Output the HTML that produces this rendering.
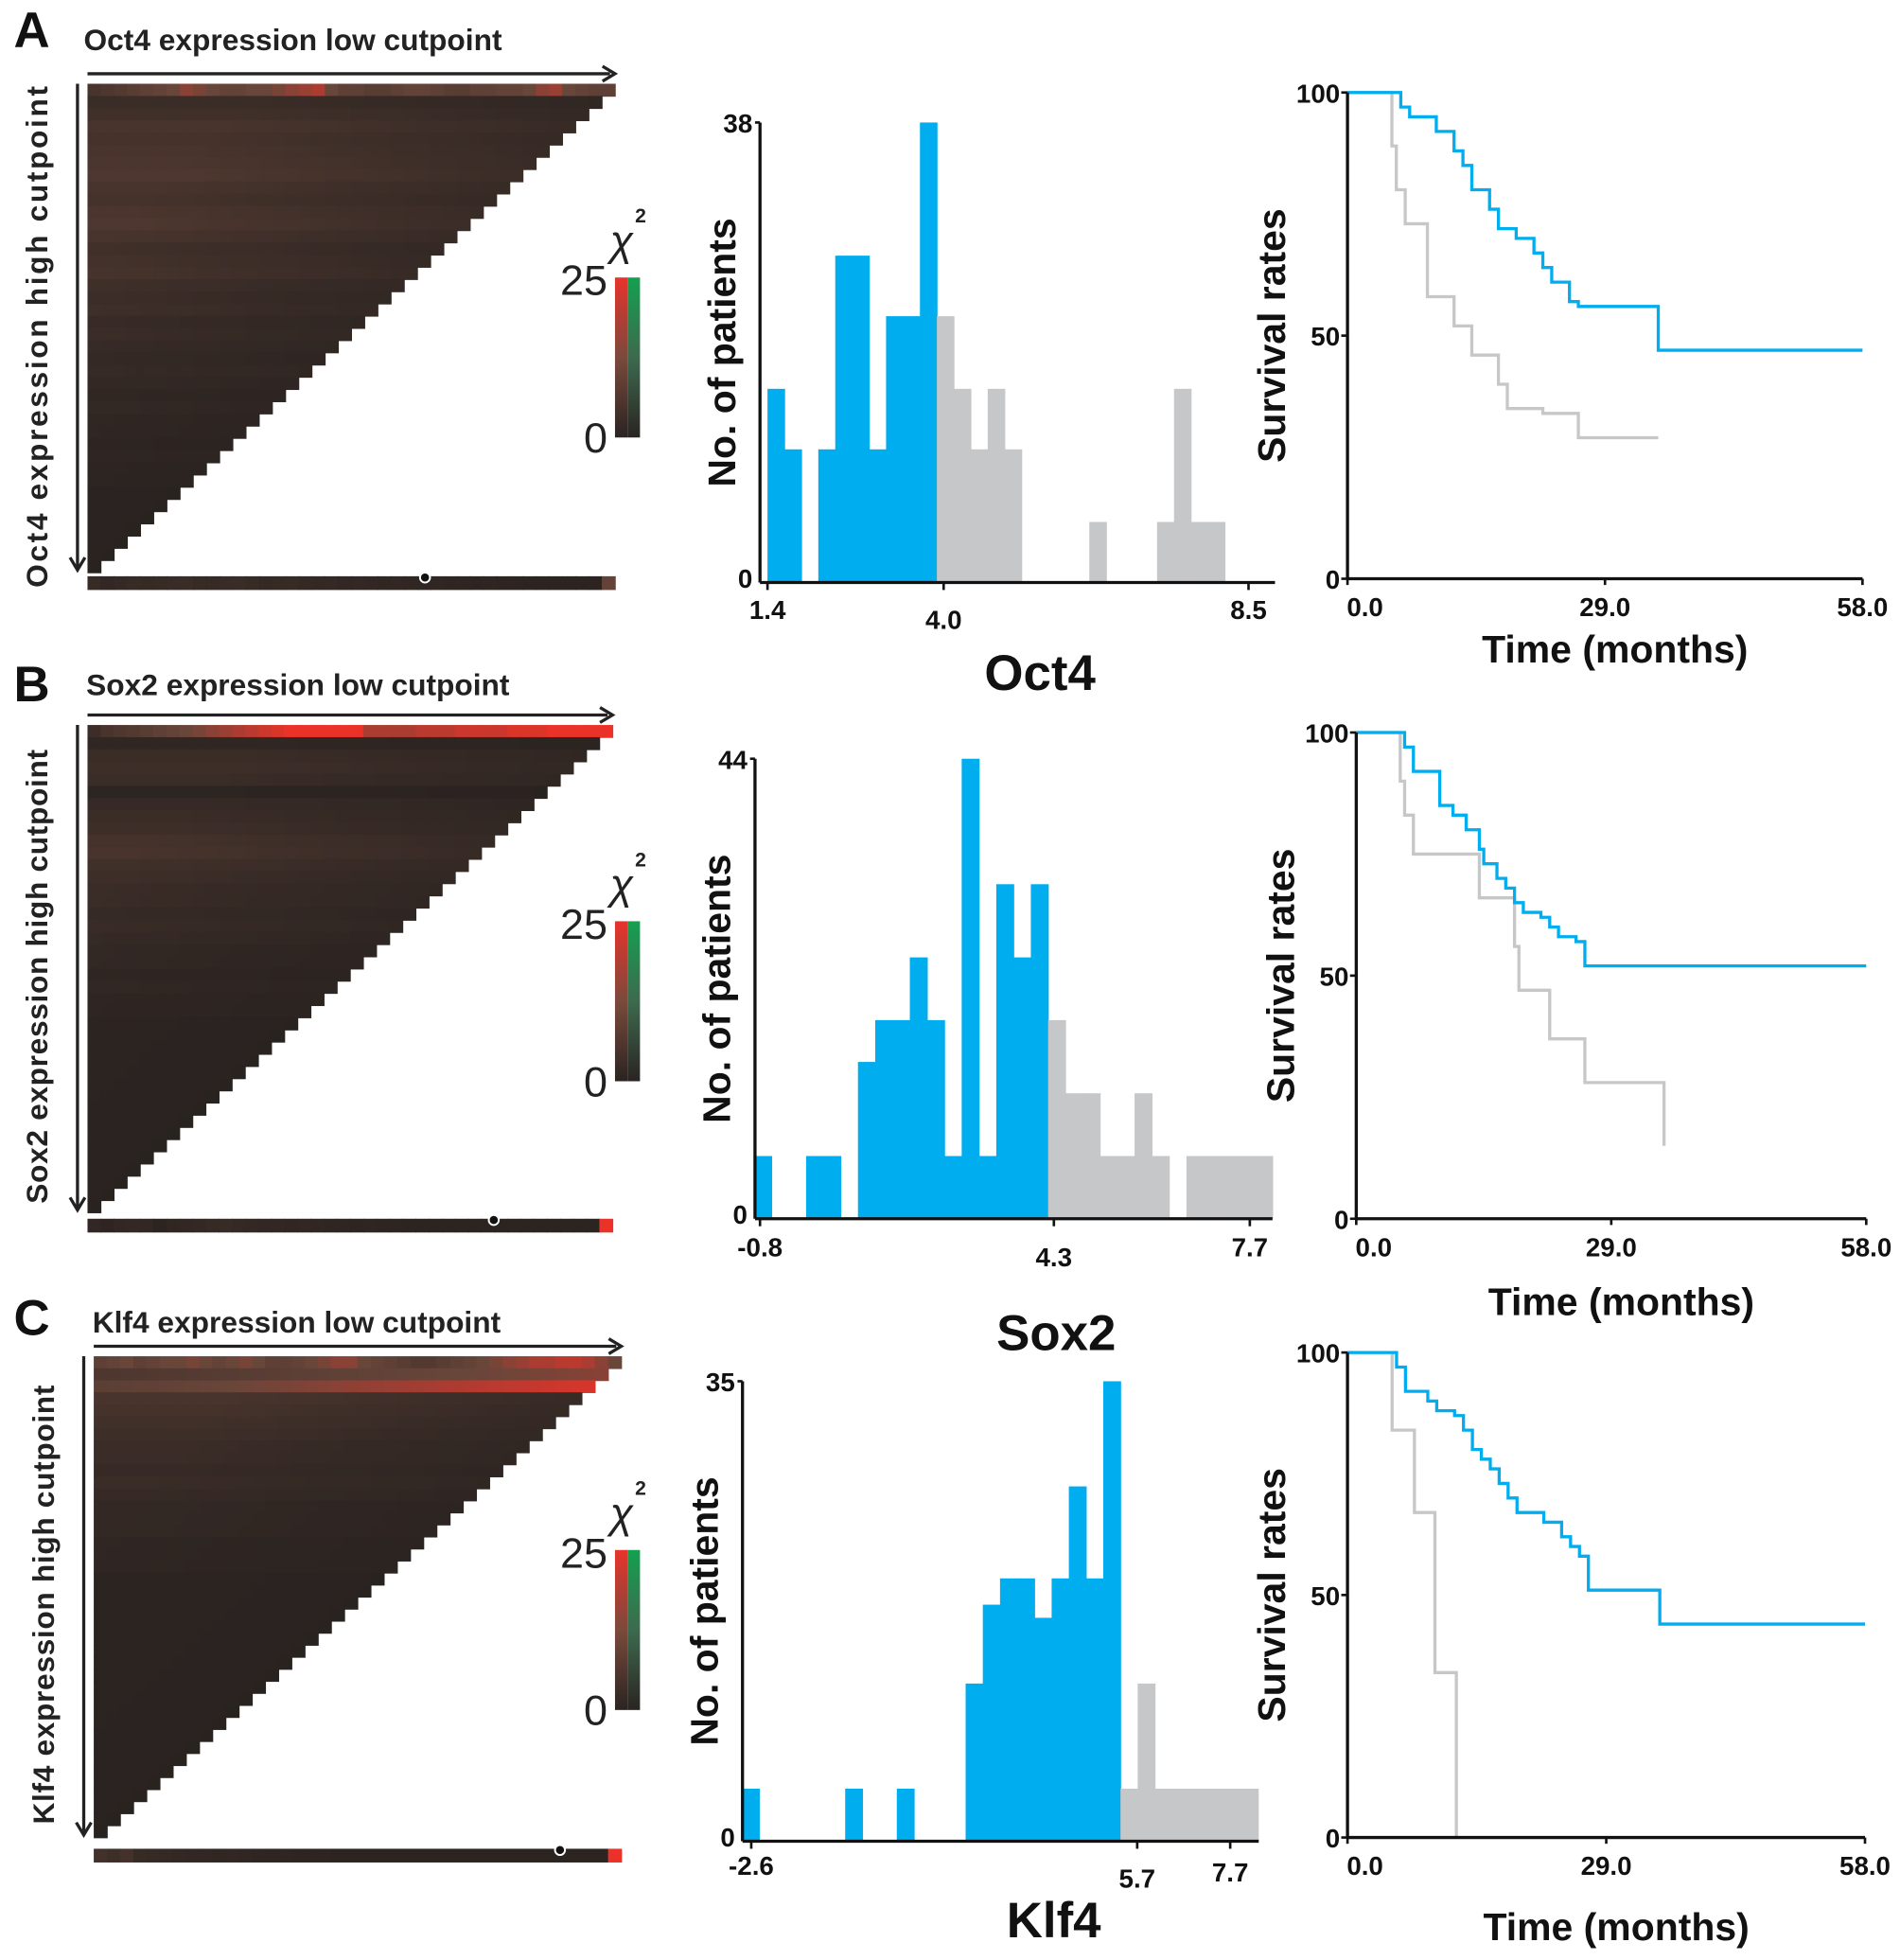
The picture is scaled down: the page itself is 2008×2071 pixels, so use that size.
<!DOCTYPE html>
<html><head><meta charset="utf-8"><style>
html,body{margin:0;padding:0;background:#fff;}
svg{display:block;}
text{font-family:"Liberation Sans",Arial,sans-serif;}
</style></head><body>
<svg id="fig" width="2008" height="2071" viewBox="0 0 1520 1568" preserveAspectRatio="none" xmlns="http://www.w3.org/2000/svg">
<defs>
<linearGradient id="gr" x1="0" y1="1" x2="0" y2="0"><stop offset="0" stop-color="#2a2422"/><stop offset="0.5" stop-color="#7a4a3c"/><stop offset="1" stop-color="#e8332b"/></linearGradient>
<linearGradient id="gg" x1="0" y1="1" x2="0" y2="0"><stop offset="0" stop-color="#2a2422"/><stop offset="0.5" stop-color="#3d6a4e"/><stop offset="1" stop-color="#14a050"/></linearGradient>
</defs>
<g id="root"></g>
</svg>
<script>
// ---------- data ----------
const panelLetters = ["A","B","C"];
const genes = ["Oct4","Sox2","Klf4"];
// heatmap intensities (0..1)
const heatRowA = [0.5,0.3,0.4,0.5,0.45,0.5,0.55,0.6,0.5,0.45,0.55,0.6,0.5,0.4,0.45,0.5,0.4,0.35,0.4,0.3,0.35,0.3,0.25,0.3,0.25,0.2,0.25,0.2,0.2,0.15,0.2,0.15,0.15,0.1,0.1,0.1,0.1,0.1,0.1,0.1];
const heatRowB = [0.3,0.15,0.3,0.35,0.3,0.1,0.25,0.3,0.35,0.45,0.5,0.4,0.35,0.3,0.3,0.25,0.3,0.25,0.2,0.2,0.15,0.2,0.15,0.15,0.1,0.1,0.1,0.1,0.1,0.1,0.1,0.1,0.1,0.1,0.1,0.1,0.1,0.1,0.1,0.1];
const heatRowC = [0.9,0.7,0.95,0.5,0.45,0.4,0.35,0.3,0.3,0.25,0.3,0.25,0.2,0.2,0.2,0.15,0.15,0.15,0.1,0.1,0.1,0.1,0.1,0.1,0.1,0.1,0.1,0.1,0.1,0.1,0.1,0.1,0.1,0.1,0.1,0.1,0.1,0.1,0.1,0.1];
const heatTopA = [0.3,0.35,0.4,0.45,0.5,0.55,0.6,0.7,0.65,0.6,0.55,0.55,0.6,0.6,0.65,0.7,0.75,0.8,0.6,0.5,0.5,0.45,0.45,0.5,0.55,0.55,0.5,0.45,0.45,0.5,0.5,0.55,0.55,0.6,0.7,0.75,0.6,0.55,0.5,0.5];
const heatTopB = [0.2,0.3,0.35,0.4,0.45,0.5,0.55,0.6,0.65,0.7,0.75,0.8,0.85,0.9,0.95,1,1,1,1,1,1,0.8,0.8,0.8,0.8,0.85,0.85,0.85,0.9,0.9,0.9,0.9,0.95,0.95,0.95,1,1,1,1,1];
const heatTopC = [0.5,0.55,0.6,0.5,0.55,0.6,0.6,0.65,0.6,0.55,0.6,0.65,0.6,0.5,0.5,0.55,0.6,0.65,0.7,0.7,0.6,0.55,0.5,0.45,0.4,0.4,0.45,0.5,0.55,0.6,0.65,0.7,0.75,0.8,0.8,0.85,0.85,0.8,0.7,0.6];
// histogram counts
const histCountsA = [16,11,0,11,27,27,11,22,22,38,22,16,11,16,11,0,0,0,0,5,0,0,0,5,16,5,5,0,0];
const histCountsB = [6,0,0,6,6,0,15,19,19,25,19,6,44,6,32,25,32,19,12,12,6,6,12,6,0,6,6,6,6,6];
const histCountsC = [4,0,0,0,0,0,4,0,0,4,0,0,0,12,18,20,20,17,20,27,20,35,4,12,4,4,4,4,4,4];
const histTicksA = [1.4,4.0,8.5];
const histTicksB = [-0.8,4.3,7.7];
const histTicksC = [-2.6,5.7,7.7];
// survival curves: times (months) and rates (%)
const survHighTA = [0,6,7,10,12,13,14,16,17,19,21,22,23,25,26,35,58];
const survHighVA = [100,97,95,92,88,85,80,76,72,70,67,64,61,57,56,47,47];
const survLowTA = [0,5,5.5,6.5,9,12,14,17,18,22,26,35];
const survLowVA = [100,89,80,73,58,52,46,40,35,34,29,29];
const survHighTB = [0,5.5,6.5,9,9.5,11,12.5,14,14.5,16,17,18,19,21,22,23,25,26,58];
const survHighVB = [100,97,92,92,85,83,80,76,73,70,68,65,63,62,60,58,57,52,52];
const survLowTB = [0,5,5.5,6.5,12,14,18,18.5,22,26,35,35];
const survLowVB = [100,90,83,75,75,66,56,47,37,28,28,15];
const survHighTC = [0,5.5,6.5,9,10,12,13,14,15,16,17,18,19,22,24,25,26,27,35,58];
const survHighVC = [100,97,92,90,88,87,84,80,78,76,73,70,67,65,62,60,58,51,44,44];
const survLowTC = [0,5,7.5,9.8,12.2,12.2];
const survLowVC = [100,84,67,34,0,0];

// ---------- layout ----------
const NS="http://www.w3.org/2000/svg";
const root=document.getElementById('root');
function mk(tag,attrs,parent,txt){const e=document.createElementNS(NS,tag);for(const k in attrs)e.setAttribute(k,attrs[k]);if(txt!==undefined)e.textContent=txt;(parent||root).appendChild(e);return e;}
const BLUE="#00adef", GREY="#c6c7c9";

const panels=[
 {hm:{x:70,y:67,w:422,h:391,ty:32,tx:67,strip:461,dot:340,colY:222,rows:heatRowA,top:heatTopA,lx:25,ly:22},
  hist:{x0:614,x1:1020,vmin:1.4,scale:54.2,bw:0.25,bstart:1.4,y0:466,ymax:38,ytop:98,split:4.0,counts:histCountsA,ticks:histTicksA,tickY:[495,503,495],ax:608,labelY:540,labelX:832},
  surv:{x0:1078,x1:1490,yTop:74,y0:463,hT:survHighTA,hV:survHighVA,lT:survLowTA,lV:survLowVA,timeY:518}},
 {hm:{x:70,y:580,w:420,h:390,ty:548,tx:69,strip:975,dot:395,colY:737,rows:heatRowB,top:heatTopB,lx:25,ly:545},
  hist:{x0:608,x1:1018,vmin:-0.8,scale:46.1,bw:0.3,bstart:-0.9,y0:975,ymax:44,ytop:607,split:4.3,counts:histCountsB,ticks:histTicksB,tickY:[1005,1013,1005],ax:604,labelY:1068,labelX:845},
  surv:{x0:1085,x1:1493,yTop:586,y0:975,hT:survHighTB,hV:survHighVB,lT:survLowTB,lV:survLowVB,timeY:1040}},
 {hm:{x:75,y:1085,w:422,h:385,ty:1058,tx:74,strip:1479,dot:448,colY:1240,rows:heatRowC,top:heatTopC,lx:25,ly:1052},
  hist:{x0:601,x1:1007,vmin:-2.6,scale:37.2,bw:0.37,bstart:-2.8,y0:1473,ymax:35,ytop:1105,split:5.5,counts:histCountsC,ticks:histTicksC,tickY:[1500,1510,1505],ax:594,labelY:1538,labelX:843},
  surv:{x0:1078,x1:1492,yTop:1082,y0:1470,hT:survHighTC,hV:survHighVC,lT:survLowTC,lV:survLowVC,timeY:1540}}
];

function mixC(t){ // dark -> brown -> red
  const a=[38,33,31], b=[105,70,58], c=[235,50,40];
  let r; if(t<0.6){const u=t/0.6;r=a.map((v,i)=>v+(b[i]-v)*u);} else {const u=(t-0.6)/0.4;r=b.map((v,i)=>v+(c[i]-v)*u);}
  return "rgb("+r.map(Math.round).join(",")+")";
}

panels.forEach((p,pi)=>{
  const g=genes[pi], h=p.hm;
  const lab=mk('text',{x:h.lx-14,y:h.ly+16,'font-size':40,'font-weight':'bold',fill:'#111'},root,panelLetters[pi]);
  
  
  const t=mk('text',{x:h.tx,y:h.ty+8,'font-size':24,'font-weight':'bold',fill:'#222'},root,g+" expression low cutpoint");
  
  
  mk('line',{x1:h.x,y1:h.y-8,x2:h.x+h.w-4,y2:h.y-8,stroke:'#222','stroke-width':2.5});
  mk('path',{d:`M${h.x+h.w-10} ${h.y-14} L${h.x+h.w} ${h.y-8} L${h.x+h.w-10} ${h.y-2}`,stroke:'#222',fill:'none','stroke-width':2.5});
  mk('line',{x1:h.x-8,y1:h.y,x2:h.x-8,y2:h.y+h.h-4,stroke:'#222','stroke-width':2.5});
  mk('path',{d:`M${h.x-14} ${h.y+h.h-12} L${h.x-8} ${h.y+h.h-2} L${h.x-2} ${h.y+h.h-12}`,stroke:'#222',fill:'none','stroke-width':2.5});
  const yt=mk('text',{transform:`translate(${h.x-32},${h.y+h.h/2+6}) rotate(-90)`,'text-anchor':'middle','font-size':24,'font-weight':'bold',fill:'#222','letter-spacing':pi==0?2:0.5},root,g+" expression high cutpoint");
  
  
  // heatmap cells
  const N=h.rows.length, cw=h.w/N, ch=h.h/N;
  const hg=mk('g',{});
  
  
  for(let r=0;r<N;r++){
    const len=N-r;
    for(let c=0;c<len;c++){
      let v = r===0 ? h.top[c] : h.rows[r]*0.6*(0.5+0.5*Math.min(1,(len-c)/N*1.5));
      if(pi===2 && r>0 && r<3) v = h.rows[r]*(0.5+0.5*c/len);
      const cell=mk('rect',{x:(h.x+c*cw).toFixed(2),y:(h.y+r*ch).toFixed(2),width:(cw+0.6).toFixed(2),height:(ch+0.6).toFixed(2),fill:mixC(Math.min(1,v))},hg);
      
      
    }
  }
  // bottom strip
  for(let c=0;c<N;c++){
    const v = c===N-1 ? (pi==0?0.55:1) : h.rows[Math.min(N-1,c)]*0.25+0.03;
    const s=mk('rect',{x:(h.x+c*cw).toFixed(2),y:h.strip,width:(cw+0.6).toFixed(2),height:11,fill:mixC(v)});
    
    
  }
  mk('circle',{cx:h.dot,cy:h.strip+1,r:4,fill:'#111',stroke:'#fff','stroke-width':1.5});
  // color bar
  const cb=mk('g',{});  
  mk('rect',{x:492,y:h.colY,width:10,height:128,fill:'url(#gr)'},cb);
  mk('rect',{x:502,y:h.colY,width:10,height:128,fill:'url(#gg)'},cb);
  mk('text',{x:486,y:h.colY+14,'text-anchor':'end','font-size':34,fill:'#222'},cb,'25');
  mk('text',{x:486,y:h.colY+140,'text-anchor':'end','font-size':34,fill:'#222'},cb,'0');
  mk('text',{x:488,y:h.colY-18,'font-size':34,'font-style':'italic',fill:'#222'},cb,'χ');
  mk('text',{x:508,y:h.colY-44,'font-size':16,'font-weight':'bold',fill:'#222'},cb,'2');

  // histogram
  const H=p.hist;
  const xs=v=>H.x0+(v-H.vmin)*H.scale;
  const ys=c=>H.y0-(c/H.ymax)*(H.y0-H.ytop);
  const hgr=mk('g',{});  
  H.counts.forEach((c,i)=>{
    if(!c) return;
    const a=H.bstart+i*H.bw, b=a+H.bw;
    const xa=Math.max(H.ax,xs(a)), xb=Math.min(H.x1,xs(b));
    const bar=mk('rect',{x:xa,y:ys(c),width:xb-xa+0.5,height:H.y0-ys(c),fill:(a+H.bw/2<H.split)?BLUE:GREY},hgr);
    
    
  });
  mk('line',{x1:H.ax,y1:H.ytop,x2:H.ax,y2:H.y0,stroke:'#111','stroke-width':2.5},hgr);
  mk('line',{x1:H.ax,y1:H.y0,x2:H.x1,y2:H.y0,stroke:'#111','stroke-width':2.5},hgr);
  mk('line',{x1:H.ax-4,y1:H.ytop,x2:H.ax,y2:H.ytop,stroke:'#111','stroke-width':2},hgr);
  mk('text',{x:H.ax-6,y:H.ytop+8,'text-anchor':'end','font-size':21,'font-weight':'bold',fill:'#111'},hgr,String(H.ymax));
  mk('text',{x:H.ax-6,y:H.y0+4,'text-anchor':'end','font-size':21,'font-weight':'bold',fill:'#111'},hgr,'0');
  H.ticks.forEach((tv,i)=>{
    mk('line',{x1:xs(tv),y1:H.y0,x2:xs(tv),y2:H.y0+6,stroke:'#111','stroke-width':2},hgr);
    const tl=mk('text',{x:xs(tv),y:H.tickY[i],'text-anchor':'middle','font-size':21,'font-weight':'bold',fill:'#111'},hgr,tv.toFixed(1));
    
    
  });
  mk('text',{transform:`translate(${H.ax-20},${(H.ytop+H.y0)/2}) rotate(-90)`,'text-anchor':'middle','font-size':31,'font-weight':'bold',fill:'#111'},hgr,'No. of patients');
  const gl=mk('text',{x:H.labelX,y:H.labelY+12,'text-anchor':'middle','font-size':40,'font-weight':'bold',fill:'#111'},root,g);
  
  

  // survival
  const S=p.surv;
  const sx=t=>S.x0+t/58*(S.x1-S.x0);
  const sy=v=>S.y0-v/100*(S.y0-S.yTop);
  const sg=mk('g',{});  
  function step(T,V){let d=`M${sx(T[0])} ${sy(V[0])}`;for(let i=1;i<T.length;i++){d+=` H${sx(T[i])} V${sy(V[i])}`;}return d;}
  const lo=mk('path',{d:step(S.lT,S.lV),fill:'none',stroke:GREY,'stroke-width':2.5},sg);
   
  const hi=mk('path',{d:step(S.hT,S.hV),fill:'none',stroke:BLUE,'stroke-width':2.5},sg);
   
  mk('line',{x1:S.x0,y1:S.yTop,x2:S.x0,y2:S.y0,stroke:'#111','stroke-width':2.5},sg);
  mk('line',{x1:S.x0,y1:S.y0,x2:S.x1,y2:S.y0,stroke:'#111','stroke-width':2.5},sg);
  [0,50,100].forEach(v=>{
    mk('line',{x1:S.x0-5,y1:sy(v),x2:S.x0,y2:sy(v),stroke:'#111','stroke-width':2},sg);
    mk('text',{x:S.x0-6,y:sy(v)+8,'text-anchor':'end','font-size':21,'font-weight':'bold',fill:'#111'},sg,String(v));
  });
  [0,29,58].forEach(t=>{
    mk('line',{x1:sx(t),y1:S.y0,x2:sx(t),y2:S.y0+5,stroke:'#111','stroke-width':2},sg);
    mk('text',{x:sx(t)+(t==0?14:0),y:S.y0+30,'text-anchor':'middle','font-size':21,'font-weight':'bold',fill:'#111'},sg,t.toFixed(1));
  });
  mk('text',{x:(S.x0+S.x1)/2+8,y:S.timeY+12,'text-anchor':'middle','font-size':31,'font-weight':'bold',fill:'#111'},sg,'Time (months)');
  mk('text',{transform:`translate(${S.x0-50},${(S.yTop+S.y0)/2}) rotate(-90)`,'text-anchor':'middle','font-size':31,'font-weight':'bold',fill:'#111'},sg,'Survival rates');
});
</script>
</body></html>
